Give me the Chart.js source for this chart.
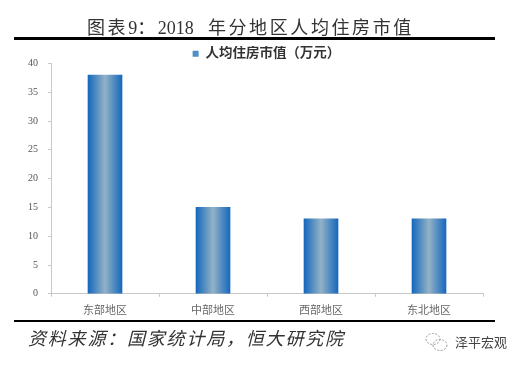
<!DOCTYPE html>
<html><head><meta charset="utf-8">
<script src="https://cdn.jsdelivr.net/npm/chart.js@4"></script>
<style>
html,body{margin:0;padding:0;background:#fff;width:524px;height:366px;overflow:hidden}
#wrap{position:relative;width:524px;height:366px;filter:blur(.35px)}
.t{position:absolute;white-space:nowrap;font-family:"Liberation Serif","Noto Sans CJK SC",serif}
.r{position:absolute;background:#000;left:14px;width:481px}
canvas{position:absolute;left:0;top:38px}
.n{letter-spacing:0}
</style></head><body>
<div id="wrap">
<div class="t" id="title" style="left:87px;top:15px;font-size:18px;letter-spacing:2.6px;color:#333;line-height:26px">图表<span class="n">9</span>&#xFF1A;<span class="n">2018</span><span style="margin-left:7px"> </span>年分地区人均住房市值</div>
<canvas id="c" width="524" height="284"></canvas>
<div class="r" style="top:37px;height:3px"></div>
<div class="r" style="top:320px;height:2px"></div>
<div class="t" style="left:28px;top:326px;font-size:18px;letter-spacing:1.8px;font-style:italic;color:#333;line-height:26px">资料来源&#xFF1A;国家统计局&#xFF0C;恒大研究院</div>
<svg style="position:absolute;left:425px;top:332px" width="24" height="20" viewBox="0 0 24 20" fill="none" stroke="#999" stroke-width="1" stroke-dasharray="2 1.5"><ellipse cx="8" cy="7" rx="7" ry="5.5"/><ellipse cx="15" cy="13" rx="7" ry="5.5"/></svg>
<div class="t" style="left:455px;top:333px;font-size:13px;color:#444;line-height:18px;font-family:'Noto Sans CJK SC'">泽平宏观</div>
</div>
<script>
const categories=["东部地区","中部地区","西部地区","东北地区"];
const seriesName="人均住房市值\uFF08万元\uFF09";
const seriesValues=[38,15,13,13];
const yTicks=[0,5,10,15,20,25,30,35,40];

function barFill(ctx){
  const chart=ctx.chart;
  const sx=chart.scales.x;
  if(!sx||ctx.dataIndex===undefined||ctx.type!=="data")return "#4f8fc6";
  const cx=sx.getPixelForValue(ctx.dataIndex);
  const g=chart.ctx.createLinearGradient(cx-17,0,cx+17,0);
  g.addColorStop(0,"#1668bd");
  g.addColorStop(.5,"#93b2c6");
  g.addColorStop(1,"#1668bd");
  return g;
}
const legendShift={id:"legendShift",afterLayout(c){const l=c.legend;l.top+=7;l.bottom+=7;l.left+=25;l.right+=25;}};
new Chart(document.getElementById("c"),{
  type:"bar",
  data:{labels:categories,datasets:[{label:seriesName,data:seriesValues,backgroundColor:barFill,borderWidth:0,barThickness:34}]},
  plugins:[legendShift],
  options:{
    responsive:false,animation:false,
    layout:{padding:{left:0,right:41,top:1,bottom:0}},
    plugins:{
      tooltip:{enabled:false},
      legend:{position:"top",align:"center",
        labels:{boxWidth:6,boxHeight:6,padding:1,color:"#333",font:{family:"'Liberation Serif','Noto Sans CJK SC'",size:13.5,weight:"bold"},
          generateLabels(){return [{text:seriesName,fillStyle:"#4f8fc6",strokeStyle:"#4f8fc6",lineWidth:0,fontColor:"#333"}];}}}
    },
    scales:{
      x:{grid:{display:true,drawOnChartArea:false,drawTicks:true,tickLength:3,color:"#c8c8c8"},border:{color:"#c8c8c8"},
         ticks:{color:"#666",padding:6,font:{family:"'Noto Sans CJK SC'",size:11},maxRotation:0}},
      y:{min:0,max:40,afterBuildTicks(s){s.ticks=yTicks.map(v=>({value:v}));},
         afterFit(s){s.width=51;},
         grid:{display:true,drawOnChartArea:false,tickLength:3,color:"#c8c8c8"},border:{color:"#c8c8c8"},
         ticks:{color:"#555",padding:10,font:{family:"'Liberation Serif'",size:10}}}
    }
  }
});
</script>
</body></html>
